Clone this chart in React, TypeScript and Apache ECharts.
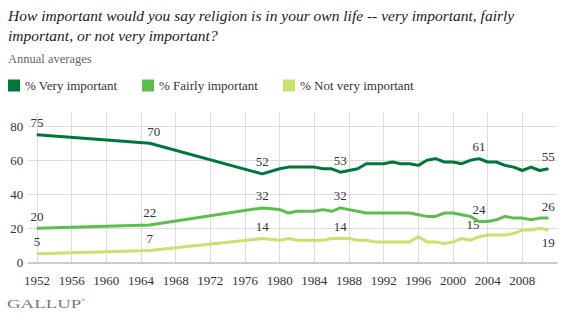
import React, { useEffect, useRef } from "react";
import * as echarts from "echarts";

// ---- Data ----
const years = [
  1952, 1965, 1978, 1980, 1981, 1982, 1983, 1984, 1985, 1986, 1987, 1988,
  1989, 1990, 1991, 1992, 1993, 1994, 1995, 1996, 1997, 1998, 1999, 2000,
  2001, 2002, 2003, 2004, 2005, 2006, 2007, 2008, 2009, 2010, 2011,
];
const veryImportant = [
  75, 70, 52, 55, 56, 56, 56, 56, 55, 55, 53, 54,
  55, 58, 58, 58, 59, 58, 58, 57, 60, 61, 59, 59,
  58, 60, 61, 59, 59, 57, 56, 54, 56, 54, 55,
];
const fairlyImportant = [
  20, 22, 32, 31, 29, 30, 30, 30, 31, 30, 32, 31,
  30, 29, 29, 29, 29, 29, 29, 28, 27, 27, 29, 29,
  28, 27, 24, 24, 25, 27, 26, 26, 25, 26, 26,
];
const notVeryImportant = [
  5, 7, 14, 13, 14, 13, 13, 13, 13, 14, 14, 14,
  13, 13, 12, 12, 12, 12, 12, 15, 12, 12, 11, 12,
  14, 13, 15, 16, 16, 16, 17, 19, 19, 20, 19,
];
const seriesNames = ["% Very important", "% Fairly important", "% Not very important"];
const labelYears = [1952, 1965, 1978, 1987, 2003, 2011];
const tickYears = [1952, 1956, 1960, 1964, 1968, 1972, 1976, 1980, 1984, 1988, 1992, 1996, 2000, 2004, 2008];
const axisStartYear = 1951;
const axisEndYear = 2012;
const yTickValues = [0, 20, 40, 60, 80];

const titleLines = [
  "How important would you say religion is in your own life -- very important, fairly",
  "important, or not very important?",
];
const subtitle = "Annual averages";

const colors = ["#00773a", "#5dbd4e", "#c6e36b"];
const FONT = "'Liberation Serif', 'DejaVu Serif', serif";

function buildCategories(): string[] {
  const out: string[] = [];
  for (let y = axisStartYear; y <= axisEndYear; y++) out.push(String(y));
  return out;
}

function buildData(
  cats: string[],
  values: number[],
  labelFor: (year: number) => any
) {
  const map = new Map<number, number>();
  years.forEach((y, i) => map.set(y, values[i]));
  return cats.map((c) => {
    const y = Number(c);
    if (!map.has(y)) return null;
    const v = map.get(y) as number;
    const lab = labelFor(y);
    if (lab) return { value: v, label: lab };
    return v;
  });
}

export default function App() {
  const ref = useRef<HTMLDivElement>(null);

  useEffect(() => {
    if (!ref.current) return;
    const chart = echarts.init(ref.current, undefined, { renderer: "svg" });
    const cats = buildCategories();

    const baseLabel = {
      show: true,
      position: "top",
      distance: 5,
      fontFamily: FONT,
      fontSize: 13,
      color: "#333",
    };

    const veryData = buildData(cats, veryImportant, (y) => {
      if (!labelYears.includes(y)) return null;
      if (y === 1965) return { ...baseLabel, offset: [4, 0] };
      return baseLabel;
    });
    const fairlyData = buildData(cats, fairlyImportant, (y) =>
      labelYears.includes(y) ? baseLabel : null
    );
    const notData = buildData(cats, notVeryImportant, (y) => {
      if (!labelYears.includes(y)) return null;
      if (y === 2003) return { ...baseLabel, offset: [-6, 0] };
      if (y === 2011) return { ...baseLabel, position: "bottom", distance: 5 };
      return baseLabel;
    });

    const mkSeries = (name: string, data: any[], color: string, z: number) => ({
      name,
      type: "line",
      data,
      connectNulls: true,
      showSymbol: true,
      symbol: "circle",
      symbolSize: 1,
      z,
      lineStyle: { color, width: 3 },
      itemStyle: { color },
      label: { show: false },
      emphasis: { disabled: true },
    });

    const legendLefts = [8, 142, 283];

    chart.setOption({
      animation: false,
      title: [
        {
          text: titleLines.join("\n"),
          left: 8,
          top: 5,
          padding: 0,
          textStyle: {
            fontFamily: FONT,
            fontStyle: "italic",
            fontWeight: "normal",
            fontSize: 15.5,
            lineHeight: 20,
            color: "#222",
          },
        },
        {
          text: subtitle,
          left: 8,
          top: 52,
          padding: 0,
          textStyle: {
            fontFamily: FONT,
            fontWeight: "normal",
            fontSize: 12.5,
            lineHeight: 14,
            color: "#666",
          },
        },
      ],
      legend: seriesNames.map((n, i) => ({
        data: [n],
        left: legendLefts[i],
        top: 79,
        padding: 0,
        itemWidth: 12,
        itemHeight: 12,
        icon: "rect",
        selectedMode: false,
        textStyle: { fontFamily: FONT, fontSize: 13, color: "#333" },
      })),
      grid: {
        left: 28.3,
        right: 7,
        top: 112.7,
        bottom: 61.7,
        containLabel: false,
      },
      xAxis: {
        type: "category",
        data: cats,
        boundaryGap: false,
        axisLine: { show: true, lineStyle: { color: "#cccccc", width: 2 } },
        axisTick: { show: false },
        axisLabel: {
          interval: (_i: number, v: string) => tickYears.includes(Number(v)),
          fontFamily: FONT,
          fontSize: 13,
          color: "#333",
          margin: 12,
        },
        splitLine: {
          show: true,
          interval: (_i: number, v: string) => tickYears.includes(Number(v)),
          lineStyle: { color: "#dcdcdc", width: 1 },
        },
      },
      yAxis: {
        type: "value",
        min: 0,
        max: 88,
        interval: 20,
        axisLine: { show: false },
        axisTick: { show: false },
        axisLabel: {
          formatter: (v: number) => (yTickValues.includes(v) ? String(v) : ""),
          fontFamily: FONT,
          fontSize: 13,
          color: "#333",
          margin: 5,
        },
        splitLine: {
          show: true,
          showMaxLine: false,
          lineStyle: { color: "#dcdcdc", width: 1 },
        },
      },
      graphic: [
        {
          type: "text",
          x: 7,
          y: 297,
          scaleX: 1.45,
          style: {
            text: "GALLUP",
            fontFamily: FONT,
            fontSize: 13,
            fill: "#7a7a7a",
          },
        },
        {
          type: "text",
          x: 81,
          y: 297,
          style: {
            text: "®",
            fontFamily: FONT,
            fontSize: 6,
            fill: "#7a7a7a",
          },
        },
      ],
      series: [
        mkSeries(seriesNames[2], notData, colors[2], 2),
        mkSeries(seriesNames[1], fairlyData, colors[1], 3),
        mkSeries(seriesNames[0], veryData, colors[0], 4),
      ],
      color: [colors[2], colors[1], colors[0]],
    });

    return () => {
      chart.dispose();
    };
  }, []);

  return (
    <div
      ref={ref}
      style={{ position: "absolute", left: 0, top: 0, width: 564, height: 324 }}
    />
  );
}
